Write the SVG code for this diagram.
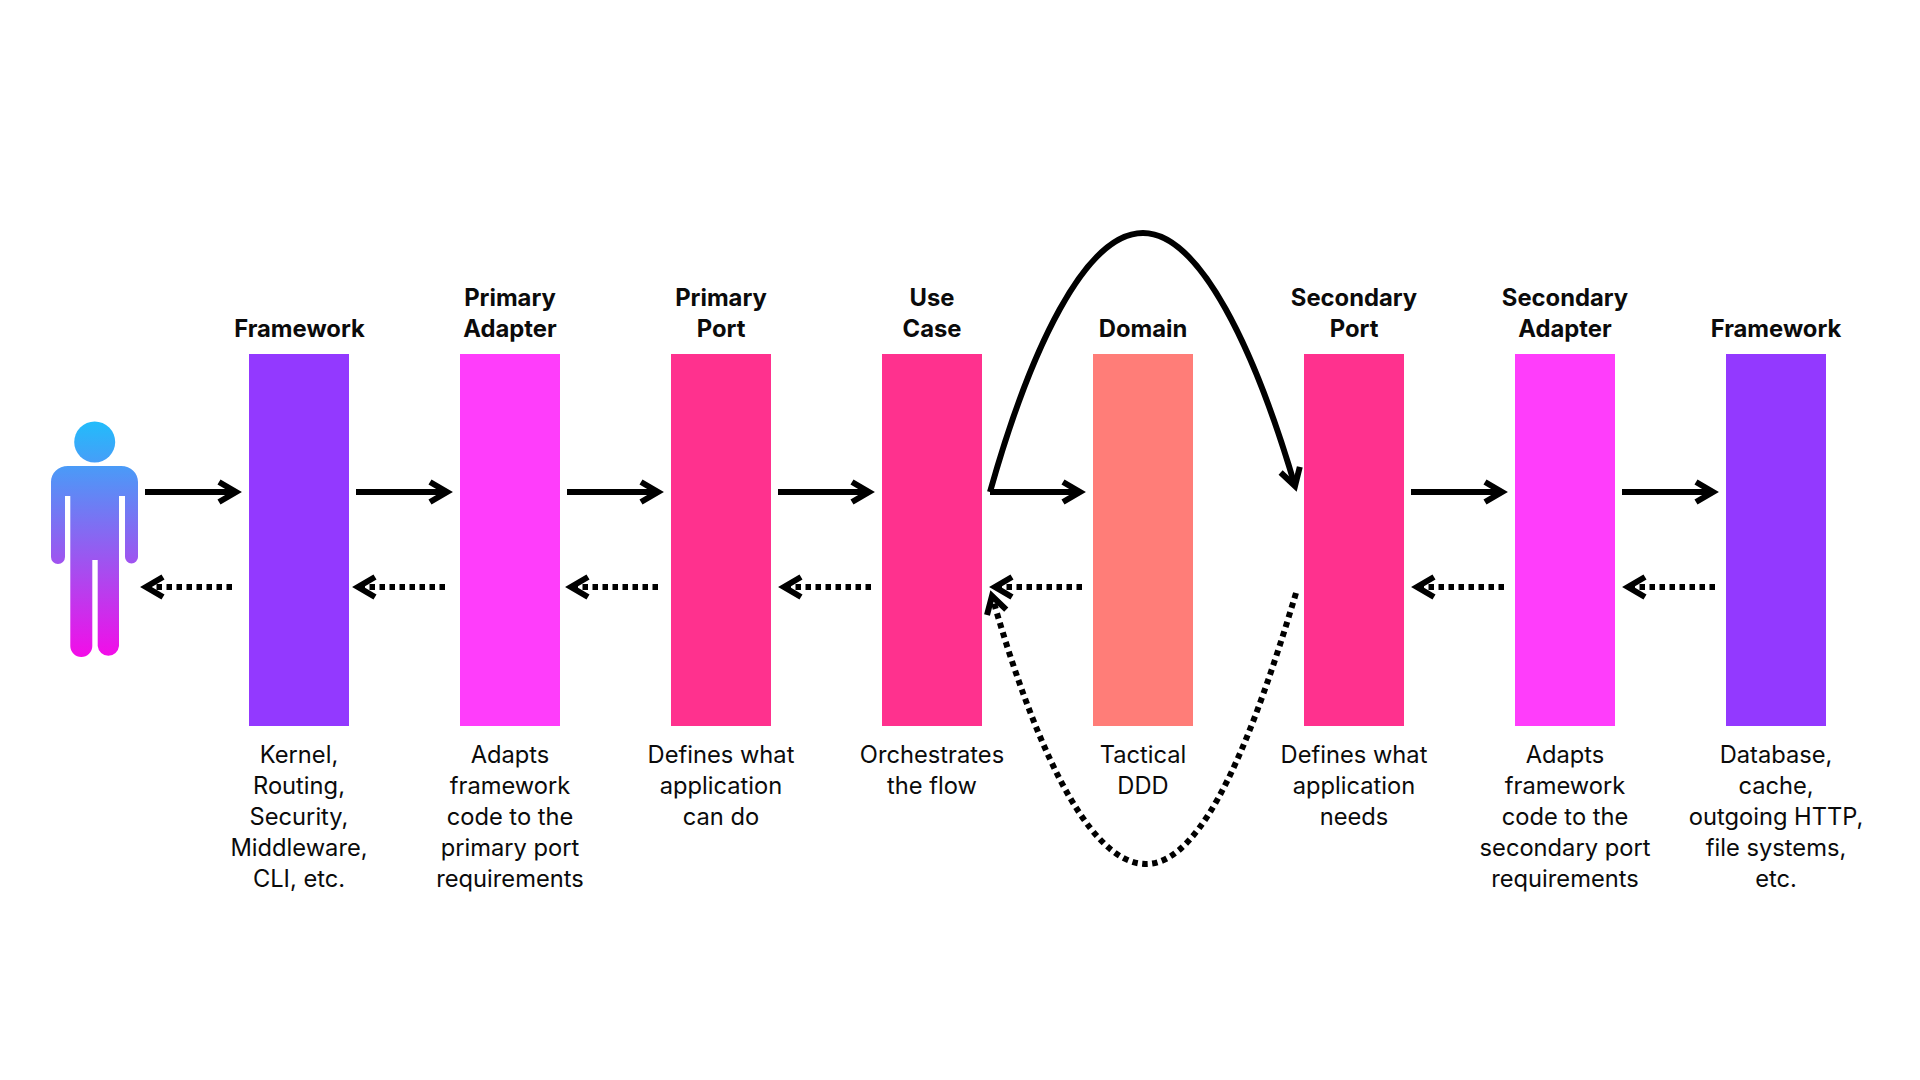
<svg xmlns="http://www.w3.org/2000/svg" width="1920" height="1080" viewBox="0 0 1920 1080">
<style>
text{font-family:"Inter","Liberation Sans",sans-serif;font-size:23.7px;fill:#0b0b0b;text-anchor:middle}
.t{font-weight:700;font-size:23.8px}
.s{fill:none;stroke:#000;stroke-width:6;marker-end:url(#h)}
.d{fill:none;stroke:#000;stroke-width:6;stroke-dasharray:5.5 4.5;marker-end:url(#h)}
</style>
<defs>
<marker id="h" markerUnits="userSpaceOnUse" markerWidth="30" markerHeight="34" refX="22" refY="17" orient="auto" overflow="visible"><path d="M5 7L22 17L5 27" fill="none" stroke="#000" stroke-width="6"/></marker>
<linearGradient id="g" gradientUnits="userSpaceOnUse" x1="0" y1="422" x2="0" y2="657"><stop offset="0" stop-color="#22bcfb"/><stop offset="1" stop-color="#f40ce8"/></linearGradient>
</defs>
<rect width="1920" height="1080" fill="#fff"/>
<g id="user"><circle cx="94.7" cy="442" r="20.5" fill="url(#g)"/><path fill="url(#g)" d="M68 466H121C131 466 138 473 138 482V557A6.500 6.500 0 0 1 125 557V496H119V646A10.700 10.700 0 0 1 97.700 646V560H92.300V646A11 11 0 0 1 70.300 646V496H65V557A7 7 0 0 1 51 557V482C51 473 58 466 68 466Z"/></g>
<g id="framework-left"><rect x="249" y="354" width="100" height="372" fill="#9339ff"/><text class="t" x="299.500" y="337">Framework</text><text x="299" y="763">Kernel,</text><text x="299" y="794">Routing,</text><text x="299" y="825">Security,</text><text x="299" y="856">Middleware,</text><text x="299" y="887">CLI, etc.</text></g>
<g id="primary-adapter"><rect x="460" y="354" width="100" height="372" fill="#ff3dfb"/><text class="t" x="510" y="306">Primary</text><text class="t" x="510" y="337">Adapter</text><text x="510" y="763">Adapts</text><text x="510" y="794">framework</text><text x="510" y="825">code to the</text><text x="510" y="856">primary port</text><text x="510" y="887">requirements</text></g>
<g id="primary-port"><rect x="671" y="354" width="100" height="372" fill="#ff318e"/><text class="t" x="721" y="306">Primary</text><text class="t" x="721" y="337">Port</text><text x="721" y="763">Defines what</text><text x="721" y="794">application</text><text x="721" y="825">can do</text></g>
<g id="use-case"><rect x="882" y="354" width="100" height="372" fill="#ff318e"/><text class="t" x="932" y="306">Use</text><text class="t" x="932" y="337">Case</text><text x="932" y="763">Orchestrates</text><text x="932" y="794">the flow</text></g>
<g id="domain"><rect x="1093" y="354" width="100" height="372" fill="#ff7d78"/><text class="t" x="1143" y="337">Domain</text><text x="1143" y="763">Tactical</text><text x="1143" y="794">DDD</text></g>
<g id="secondary-port"><rect x="1304" y="354" width="100" height="372" fill="#ff318e"/><text class="t" x="1354" y="306">Secondary</text><text class="t" x="1354" y="337">Port</text><text x="1354" y="763">Defines what</text><text x="1354" y="794">application</text><text x="1354" y="825">needs</text></g>
<g id="secondary-adapter"><rect x="1515" y="354" width="100" height="372" fill="#ff3dfb"/><text class="t" x="1565" y="306">Secondary</text><text class="t" x="1565" y="337">Adapter</text><text x="1565" y="763">Adapts</text><text x="1565" y="794">framework</text><text x="1565" y="825">code to the</text><text x="1565" y="856">secondary port</text><text x="1565" y="887">requirements</text></g>
<g id="framework-right"><rect x="1726" y="354" width="100" height="372" fill="#9339ff"/><text class="t" x="1776" y="337">Framework</text><text x="1776" y="763">Database,</text><text x="1776" y="794">cache,</text><text x="1776" y="825">outgoing HTTP,</text><text x="1776" y="856">file systems,</text><text x="1776" y="887">etc.</text></g>
<g id="connectors">
<path class="s" d="M145 492H236"/><path class="s" d="M356 492H447"/><path class="s" d="M567 492H658"/><path class="s" d="M778 492H869"/><path class="s" d="M990 492H1080"/><path class="s" d="M1411 492H1502"/><path class="s" d="M1622 492H1713"/>
<path class="s" d="M990 492C1030 350 1085 233 1143 233C1200 233 1255 350 1295 486"/>
<path class="d" d="M232 587H146"/><path class="d" d="M445 587H358"/><path class="d" d="M658 587H571"/><path class="d" d="M871 587H784"/><path class="d" d="M1082 587H995"/><path class="d" d="M1504 587H1417"/><path class="d" d="M1715 587H1628"/>
<path class="d" d="M1296 593C1255 730 1205 864 1146 864C1085 864 1030 730 992 596"/>
</g>
</svg>
